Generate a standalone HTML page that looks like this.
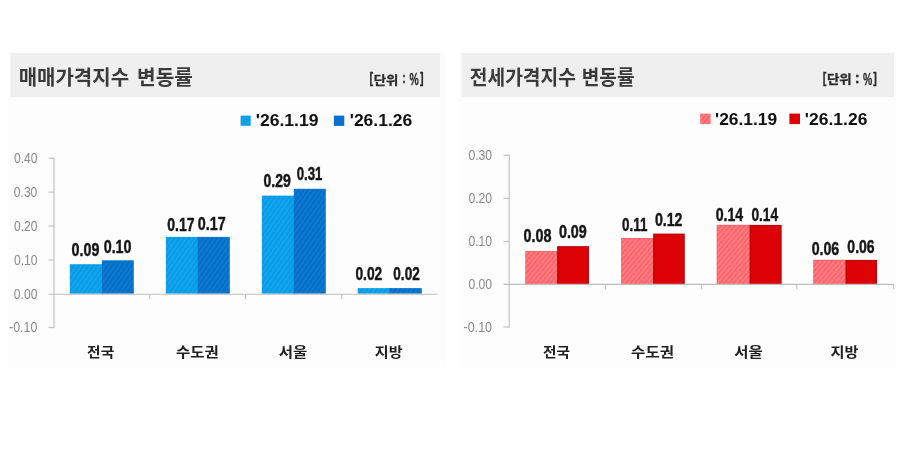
<!DOCTYPE html>
<html lang="ko">
<head>
<meta charset="utf-8">
<title>매매가격지수 · 전세가격지수 변동률</title>
<style>
html,body{margin:0;padding:0;background:#fff;}
body{width:900px;height:450px;overflow:hidden;}
svg{display:block;}
text{white-space:pre;}
</style>
</head>
<body>
<svg width="900" height="450" viewBox="0 0 900 450">
<defs>
<pattern id="hb1" width="3.9" height="3.9" patternUnits="userSpaceOnUse" patternTransform="rotate(35)">
<rect width="3.9" height="3.9" fill="#0a9de6"/><rect width="1.3" height="3.9" fill="#13a6ed"/>
</pattern>
<pattern id="hb2" width="3.9" height="3.9" patternUnits="userSpaceOnUse" patternTransform="rotate(35)">
<rect width="3.9" height="3.9" fill="#0570c8"/><rect width="1.3" height="3.9" fill="#0e7ad0"/>
</pattern>
<pattern id="hr1" width="3.6" height="3.6" patternUnits="userSpaceOnUse" patternTransform="rotate(40)">
<rect width="3.6" height="3.6" fill="#ff646a"/><rect width="1.5" height="3.6" fill="#ff8287"/>
</pattern>
</defs>
<rect width="900" height="450" fill="#ffffff"/>

<!-- left chart -->
<rect x="8.50" y="51.00" width="437.50" height="316.50" fill="#fdfdfd"/>
<rect x="10.50" y="53.00" width="429.50" height="44.20" fill="#efefef"/>
<text font-weight="bold" font-family='"Liberation Sans", "Noto Sans CJK KR", "NanumGothic", sans-serif' fill="#3a3a3a"><tspan x="18.64" y="84.74" font-size="20.59" textLength="110.43" lengthAdjust="spacingAndGlyphs">매매가격지수</tspan> <tspan x="137.05" y="84.74" font-size="20.59" textLength="55.78" lengthAdjust="spacingAndGlyphs">변동률</tspan></text>
<text font-weight="bold" font-family='"Liberation Sans", "Noto Sans CJK KR", "NanumGothic", sans-serif' fill="#2b2b2b" stroke="#2b2b2b" stroke-width="0.3"><tspan x="369.54" y="83.30" font-size="14.07" textLength="3.59" lengthAdjust="spacingAndGlyphs">[</tspan><tspan x="373.71" y="84.70" font-size="12.07" textLength="24.66" lengthAdjust="spacingAndGlyphs">단위</tspan> <tspan x="402.33" y="83.02" font-size="15.54" textLength="3.53" lengthAdjust="spacingAndGlyphs">:</tspan> <tspan x="409.54" y="85.35" font-size="16.45" textLength="9.25" lengthAdjust="spacingAndGlyphs">%</tspan><tspan x="420.04" y="83.30" font-size="14.07" textLength="3.59" lengthAdjust="spacingAndGlyphs">]</tspan></text>
<rect x="240.60" y="115.60" width="10.10" height="10.20" fill="#10a0e6"/>
<text x="255.77" y="126.19" font-size="16.70" textLength="62.75" lengthAdjust="spacingAndGlyphs" font-weight="bold" font-family='"Liberation Sans", sans-serif' fill="#101010">'26.1.19</text>
<rect x="333.90" y="115.60" width="10.40" height="10.30" fill="#0b70cb"/>
<text x="349.73" y="126.19" font-size="16.70" textLength="62.50" lengthAdjust="spacingAndGlyphs" font-weight="bold" font-family='"Liberation Sans", sans-serif' fill="#101010">'26.1.26</text>
<path d="M54.00 157.60L54.00 328.20" stroke="#bebebe" stroke-width="1.1" fill="none"/>
<path d="M48.50 158.20L54.00 158.20" stroke="#bebebe" stroke-width="1.1" fill="none"/>
<text x="13.95" y="163.16" font-size="14.15" textLength="23.48" lengthAdjust="spacingAndGlyphs" font-weight="normal" font-family='"Liberation Sans", sans-serif' fill="#8a8a8a">0.40</text>
<path d="M48.50 192.10L54.00 192.10" stroke="#bebebe" stroke-width="1.1" fill="none"/>
<text x="13.83" y="196.54" font-size="14.15" textLength="23.49" lengthAdjust="spacingAndGlyphs" font-weight="normal" font-family='"Liberation Sans", sans-serif' fill="#8a8a8a">0.30</text>
<path d="M48.50 226.00L54.00 226.00" stroke="#bebebe" stroke-width="1.1" fill="none"/>
<text x="13.95" y="231.16" font-size="14.15" textLength="23.47" lengthAdjust="spacingAndGlyphs" font-weight="normal" font-family='"Liberation Sans", sans-serif' fill="#8a8a8a">0.20</text>
<path d="M48.50 260.00L54.00 260.00" stroke="#bebebe" stroke-width="1.1" fill="none"/>
<text x="13.95" y="265.16" font-size="14.15" textLength="23.47" lengthAdjust="spacingAndGlyphs" font-weight="normal" font-family='"Liberation Sans", sans-serif' fill="#8a8a8a">0.10</text>
<text x="13.78" y="298.77" font-size="14.15" textLength="23.61" lengthAdjust="spacingAndGlyphs" font-weight="normal" font-family='"Liberation Sans", sans-serif' fill="#8a8a8a">0.00</text>
<path d="M48.50 327.60L54.00 327.60" stroke="#bebebe" stroke-width="1.1" fill="none"/>
<text x="9.11" y="332.04" font-size="14.15" textLength="28.23" lengthAdjust="spacingAndGlyphs" font-weight="normal" font-family='"Liberation Sans", sans-serif' fill="#8a8a8a">-0.10</text>
<rect x="69.80" y="264.20" width="32.90" height="29.50" fill="url(#hb1)"/>
<rect x="101.90" y="260.30" width="31.90" height="33.40" fill="url(#hb2)"/>
<rect x="165.90" y="236.90" width="32.60" height="56.80" fill="url(#hb1)"/>
<rect x="197.70" y="236.90" width="32.10" height="56.80" fill="url(#hb2)"/>
<rect x="261.80" y="195.60" width="32.80" height="98.10" fill="url(#hb1)"/>
<rect x="293.80" y="188.80" width="32.00" height="104.90" fill="url(#hb2)"/>
<rect x="357.70" y="288.10" width="32.50" height="5.60" fill="url(#hb1)"/>
<rect x="389.40" y="288.10" width="32.40" height="5.60" fill="url(#hb2)"/>
<text x="71.59" y="256.11" font-size="17.58" textLength="27.76" lengthAdjust="spacingAndGlyphs" font-weight="bold" font-family='"Liberation Sans", sans-serif' fill="#161616" stroke="#161616" stroke-width="0.45" stroke-linejoin="round">0.09</text>
<text x="103.69" y="252.66" font-size="17.58" textLength="27.83" lengthAdjust="spacingAndGlyphs" font-weight="bold" font-family='"Liberation Sans", sans-serif' fill="#161616" stroke="#161616" stroke-width="0.45" stroke-linejoin="round">0.10</text>
<text x="167.35" y="231.20" font-size="17.58" textLength="27.23" lengthAdjust="spacingAndGlyphs" font-weight="bold" font-family='"Liberation Sans", sans-serif' fill="#161616" stroke="#161616" stroke-width="0.45" stroke-linejoin="round">0.17</text>
<text x="197.72" y="229.54" font-size="17.58" textLength="27.89" lengthAdjust="spacingAndGlyphs" font-weight="bold" font-family='"Liberation Sans", sans-serif' fill="#161616" stroke="#161616" stroke-width="0.45" stroke-linejoin="round">0.17</text>
<text x="263.47" y="187.01" font-size="17.58" textLength="27.31" lengthAdjust="spacingAndGlyphs" font-weight="bold" font-family='"Liberation Sans", sans-serif' fill="#161616" stroke="#161616" stroke-width="0.45" stroke-linejoin="round">0.29</text>
<text x="296.76" y="179.83" font-size="17.58" textLength="25.67" lengthAdjust="spacingAndGlyphs" font-weight="bold" font-family='"Liberation Sans", sans-serif' fill="#161616" stroke="#161616" stroke-width="0.45" stroke-linejoin="round">0.31</text>
<text x="355.48" y="279.77" font-size="17.58" textLength="26.76" lengthAdjust="spacingAndGlyphs" font-weight="bold" font-family='"Liberation Sans", sans-serif' fill="#161616" stroke="#161616" stroke-width="0.45" stroke-linejoin="round">0.02</text>
<text x="393.32" y="279.77" font-size="17.58" textLength="26.43" lengthAdjust="spacingAndGlyphs" font-weight="bold" font-family='"Liberation Sans", sans-serif' fill="#161616" stroke="#161616" stroke-width="0.45" stroke-linejoin="round">0.02</text>
<path d="M48.50 294.20L437.50 294.20" stroke="#bebebe" stroke-width="1.1" fill="none"/>
<path d="M149.80 294.20L149.80 299.00" stroke="#bebebe" stroke-width="1.1" fill="none"/>
<path d="M245.50 294.20L245.50 299.00" stroke="#bebebe" stroke-width="1.1" fill="none"/>
<path d="M341.70 294.20L341.70 299.00" stroke="#bebebe" stroke-width="1.1" fill="none"/>
<text x="87.12" y="357.23" font-size="13.10" textLength="27.08" lengthAdjust="spacingAndGlyphs" font-weight="bold" font-family='"Liberation Sans", "Noto Sans CJK KR", "NanumGothic", sans-serif' fill="#202020">전국</text>
<text x="176.00" y="357.23" font-size="13.10" textLength="42.77" lengthAdjust="spacingAndGlyphs" font-weight="bold" font-family='"Liberation Sans", "Noto Sans CJK KR", "NanumGothic", sans-serif' fill="#202020">수도권</text>
<text x="278.81" y="357.23" font-size="13.10" textLength="28.57" lengthAdjust="spacingAndGlyphs" font-weight="bold" font-family='"Liberation Sans", "Noto Sans CJK KR", "NanumGothic", sans-serif' fill="#202020">서울</text>
<text x="374.81" y="357.23" font-size="13.10" textLength="27.77" lengthAdjust="spacingAndGlyphs" font-weight="bold" font-family='"Liberation Sans", "Noto Sans CJK KR", "NanumGothic", sans-serif' fill="#202020">지방</text>
<!-- right chart -->
<rect x="459.50" y="51.00" width="436.50" height="316.50" fill="#fdfdfd"/>
<rect x="461.30" y="53.00" width="432.70" height="44.00" fill="#efefef"/>
<text font-weight="bold" font-family='"Liberation Sans", "Noto Sans CJK KR", "NanumGothic", sans-serif' fill="#3a3a3a"><tspan x="469.83" y="84.67" font-size="20.59" textLength="106.08" lengthAdjust="spacingAndGlyphs">전세가격지수</tspan> <tspan x="581.76" y="84.67" font-size="20.59" textLength="52.80" lengthAdjust="spacingAndGlyphs">변동률</tspan></text>
<text font-weight="bold" font-family='"Liberation Sans", "Noto Sans CJK KR", "NanumGothic", sans-serif' fill="#2b2b2b" stroke="#2b2b2b" stroke-width="0.3"><tspan x="822.73" y="82.93" font-size="13.86" textLength="3.64" lengthAdjust="spacingAndGlyphs">[</tspan><tspan x="826.98" y="84.15" font-size="11.95" textLength="24.81" lengthAdjust="spacingAndGlyphs">단위</tspan> <tspan x="854.85" y="82.74" font-size="14.83" textLength="4.95" lengthAdjust="spacingAndGlyphs">:</tspan> <tspan x="862.99" y="85.37" font-size="17.03" textLength="9.29" lengthAdjust="spacingAndGlyphs">%</tspan><tspan x="873.23" y="83.02" font-size="14.07" textLength="3.62" lengthAdjust="spacingAndGlyphs">]</tspan></text>
<rect x="700.20" y="113.60" width="10.40" height="10.50" fill="url(#hr1)"/>
<text x="715.04" y="124.84" font-size="16.70" textLength="62.21" lengthAdjust="spacingAndGlyphs" font-weight="bold" font-family='"Liberation Sans", sans-serif' fill="#101010">'26.1.19</text>
<rect x="789.40" y="113.60" width="10.60" height="10.50" fill="#dc0205"/>
<text x="804.85" y="124.84" font-size="16.70" textLength="62.54" lengthAdjust="spacingAndGlyphs" font-weight="bold" font-family='"Liberation Sans", sans-serif' fill="#101010">'26.1.26</text>
<path d="M509.20 154.70L509.20 327.60" stroke="#bebebe" stroke-width="1.1" fill="none"/>
<path d="M503.70 155.30L509.20 155.30" stroke="#bebebe" stroke-width="1.1" fill="none"/>
<text x="468.40" y="160.46" font-size="14.15" textLength="23.75" lengthAdjust="spacingAndGlyphs" font-weight="normal" font-family='"Liberation Sans", sans-serif' fill="#8a8a8a">0.30</text>
<path d="M503.70 198.40L509.20 198.40" stroke="#bebebe" stroke-width="1.1" fill="none"/>
<text x="468.40" y="203.02" font-size="14.15" textLength="23.75" lengthAdjust="spacingAndGlyphs" font-weight="normal" font-family='"Liberation Sans", sans-serif' fill="#8a8a8a">0.20</text>
<path d="M503.70 241.40L509.20 241.40" stroke="#bebebe" stroke-width="1.1" fill="none"/>
<text x="468.40" y="246.02" font-size="14.15" textLength="23.75" lengthAdjust="spacingAndGlyphs" font-weight="normal" font-family='"Liberation Sans", sans-serif' fill="#8a8a8a">0.10</text>
<text x="468.45" y="288.89" font-size="14.15" textLength="23.70" lengthAdjust="spacingAndGlyphs" font-weight="normal" font-family='"Liberation Sans", sans-serif' fill="#8a8a8a">0.00</text>
<path d="M503.70 327.00L509.20 327.00" stroke="#bebebe" stroke-width="1.1" fill="none"/>
<text x="463.56" y="331.62" font-size="14.15" textLength="28.53" lengthAdjust="spacingAndGlyphs" font-weight="normal" font-family='"Liberation Sans", sans-serif' fill="#8a8a8a">-0.10</text>
<rect x="525.40" y="251.10" width="32.60" height="32.90" fill="url(#hr1)"/>
<path d="M525.80 284.00V251.50H557.20" stroke="#f4565c" stroke-width="0.8" fill="none" opacity="0.7"/>
<rect x="557.70" y="246.70" width="30.70" height="37.60" fill="#dc0205" stroke="#b00003" stroke-width="1"/>
<rect x="621.20" y="238.10" width="32.80" height="45.90" fill="url(#hr1)"/>
<path d="M621.60 284.00V238.50H653.20" stroke="#f4565c" stroke-width="0.8" fill="none" opacity="0.7"/>
<rect x="653.70" y="234.10" width="30.50" height="50.20" fill="#dc0205" stroke="#b00003" stroke-width="1"/>
<rect x="716.80" y="224.90" width="33.60" height="59.10" fill="url(#hr1)"/>
<path d="M717.20 284.00V225.30H749.60" stroke="#f4565c" stroke-width="0.8" fill="none" opacity="0.7"/>
<rect x="750.10" y="225.40" width="31.00" height="58.90" fill="#dc0205" stroke="#b00003" stroke-width="1"/>
<rect x="813.40" y="259.90" width="32.90" height="24.10" fill="url(#hr1)"/>
<path d="M813.80 284.00V260.30H845.50" stroke="#f4565c" stroke-width="0.8" fill="none" opacity="0.7"/>
<rect x="846.00" y="260.40" width="30.50" height="23.90" fill="#dc0205" stroke="#b00003" stroke-width="1"/>
<text x="523.41" y="241.57" font-size="17.58" textLength="27.99" lengthAdjust="spacingAndGlyphs" font-weight="bold" font-family='"Liberation Sans", sans-serif' fill="#161616" stroke="#161616" stroke-width="0.45" stroke-linejoin="round">0.08</text>
<text x="558.97" y="238.06" font-size="17.58" textLength="27.79" lengthAdjust="spacingAndGlyphs" font-weight="bold" font-family='"Liberation Sans", sans-serif' fill="#161616" stroke="#161616" stroke-width="0.45" stroke-linejoin="round">0.09</text>
<text x="622.12" y="230.57" font-size="17.58" textLength="25.28" lengthAdjust="spacingAndGlyphs" font-weight="bold" font-family='"Liberation Sans", sans-serif' fill="#161616" stroke="#161616" stroke-width="0.45" stroke-linejoin="round">0.11</text>
<text x="654.93" y="225.66" font-size="17.58" textLength="27.56" lengthAdjust="spacingAndGlyphs" font-weight="bold" font-family='"Liberation Sans", sans-serif' fill="#161616" stroke="#161616" stroke-width="0.45" stroke-linejoin="round">0.12</text>
<text x="715.73" y="220.98" font-size="17.58" textLength="27.45" lengthAdjust="spacingAndGlyphs" font-weight="bold" font-family='"Liberation Sans", sans-serif' fill="#161616" stroke="#161616" stroke-width="0.45" stroke-linejoin="round">0.14</text>
<text x="751.40" y="220.66" font-size="17.58" textLength="26.76" lengthAdjust="spacingAndGlyphs" font-weight="bold" font-family='"Liberation Sans", sans-serif' fill="#161616" stroke="#161616" stroke-width="0.45" stroke-linejoin="round">0.14</text>
<text x="811.65" y="254.85" font-size="17.58" textLength="27.53" lengthAdjust="spacingAndGlyphs" font-weight="bold" font-family='"Liberation Sans", sans-serif' fill="#161616" stroke="#161616" stroke-width="0.45" stroke-linejoin="round">0.06</text>
<text x="847.37" y="253.16" font-size="17.58" textLength="27.19" lengthAdjust="spacingAndGlyphs" font-weight="bold" font-family='"Liberation Sans", sans-serif' fill="#161616" stroke="#161616" stroke-width="0.45" stroke-linejoin="round">0.06</text>
<path d="M503.70 284.40L894.30 284.40" stroke="#bebebe" stroke-width="1.1" fill="none"/>
<path d="M605.60 284.40L605.60 289.20" stroke="#bebebe" stroke-width="1.1" fill="none"/>
<path d="M701.70 284.40L701.70 289.20" stroke="#bebebe" stroke-width="1.1" fill="none"/>
<path d="M796.90 284.40L796.90 289.20" stroke="#bebebe" stroke-width="1.1" fill="none"/>
<path d="M893.80 284.40L893.80 289.20" stroke="#bebebe" stroke-width="1.1" fill="none"/>
<text x="542.93" y="356.89" font-size="13.32" textLength="27.05" lengthAdjust="spacingAndGlyphs" font-weight="bold" font-family='"Liberation Sans", "Noto Sans CJK KR", "NanumGothic", sans-serif' fill="#202020">전국</text>
<text x="631.14" y="356.89" font-size="13.32" textLength="42.83" lengthAdjust="spacingAndGlyphs" font-weight="bold" font-family='"Liberation Sans", "Noto Sans CJK KR", "NanumGothic", sans-serif' fill="#202020">수도권</text>
<text x="734.23" y="356.89" font-size="13.32" textLength="28.48" lengthAdjust="spacingAndGlyphs" font-weight="bold" font-family='"Liberation Sans", "Noto Sans CJK KR", "NanumGothic", sans-serif' fill="#202020">서울</text>
<text x="830.44" y="356.89" font-size="13.32" textLength="28.07" lengthAdjust="spacingAndGlyphs" font-weight="bold" font-family='"Liberation Sans", "Noto Sans CJK KR", "NanumGothic", sans-serif' fill="#202020">지방</text>
</svg>
</body>
</html>
